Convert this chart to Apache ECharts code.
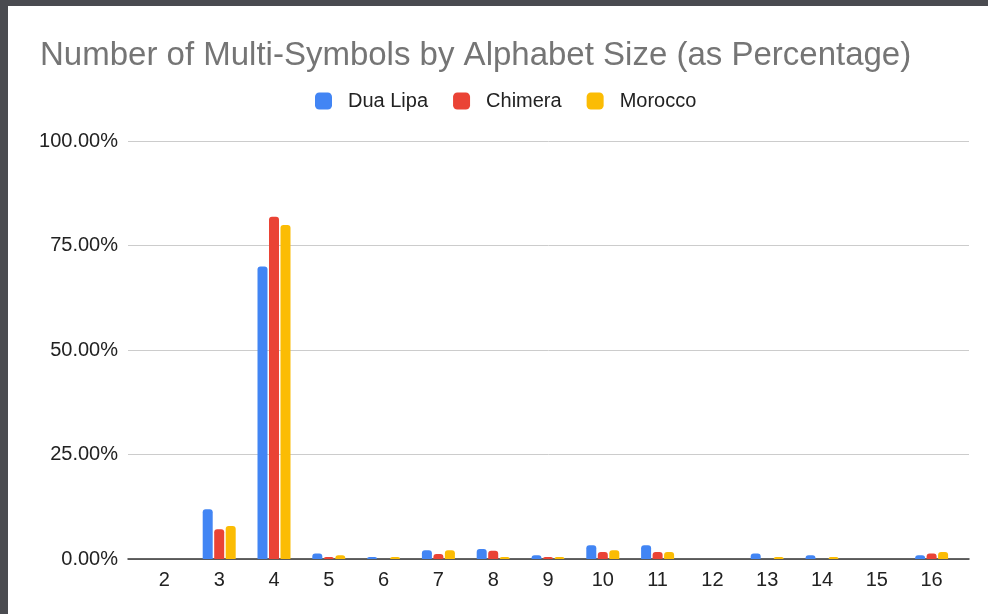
<!DOCTYPE html>
<html>
<head>
<meta charset="utf-8">
<script src="https://cdn.jsdelivr.net/npm/echarts@6/dist/echarts.min.js"></script>
<style>
  html, body { margin: 0; padding: 0; background: #ffffff; }
  #chart { position: absolute; left: 0; top: 0; width: 988px; height: 614px; }
  .frame { position: absolute; background: #4a4b50; }
</style>
</head>
<body>
<div id="chart"></div>
<div class="frame" style="left:0;top:0;width:988px;height:6px;"></div>
<div class="frame" style="left:0;top:0;width:8px;height:614px;"></div>
<script>
// Alphabet sizes on the x axis
const categories = ['2', '3', '4', '5', '6', '7', '8', '9', '10', '11', '12', '13', '14', '15', '16'];
// Share of multi-symbols per alphabet size, in percent
const duaLipa = [0, 11.9, 70.0, 1.3, 0.5, 2.1, 2.4, 0.9, 3.3, 3.3, 0, 1.3, 0.9, 0, 0.9];
const chimera = [0, 7.1, 81.9, 0.5, 0, 1.2, 2.0, 0.5, 1.7, 1.7, 0, 0, 0, 0, 1.3];
const morocco = [0, 7.9, 79.9, 0.9, 0.5, 2.1, 0.5, 0.5, 2.1, 1.7, 0, 0.5, 0.5, 0, 1.7];
const yTicks = [0, 25, 50, 75, 100];

const font = '"Liberation Sans", Arial, sans-serif';
const chart = echarts.init(document.getElementById('chart'), null, { renderer: 'canvas' });

const barSeries = (name, data, color) => ({
  name: name,
  type: 'bar',
  xAxisIndex: 1,
  yAxisIndex: 1,
  data: data,
  barWidth: 10,
  barGap: '15%',
  itemStyle: { color: color, borderRadius: [3, 3, 0, 0] }
});

chart.setOption({
  animation: false,
  backgroundColor: '#ffffff',
  textStyle: { fontFamily: font },
  title: {
    text: 'Number of Multi-Symbols by Alphabet Size (as Percentage)',
    left: 35,
    top: 34,
    textStyle: { fontFamily: font, fontSize: 33, fontWeight: 'normal', color: '#757575' }
  },
  legend: {
    top: 86,
    left: 310,
    icon: 'roundRect',
    itemWidth: 17,
    itemHeight: 17,
    itemGap: 25,
    textStyle: { fontFamily: font, fontSize: 20, color: '#222222', padding: [0, 0, 0, 11] },
    data: ['Dua Lipa', 'Chimera', 'Morocco']
  },
  grid: [
    { left: 128, right: 19, top: 141, bottom: 614 - 559, containLabel: false },
    { left: 137, right: 988 - 959, top: 141, bottom: 614 - 559, containLabel: false }
  ],
  xAxis: [
    {
      gridIndex: 0,
      type: 'value',
      min: 0,
      max: 1,
      axisLine: { show: true, onZero: true, lineStyle: { color: '#333333', width: 1.5 } },
      axisTick: { show: false },
      axisLabel: { show: false },
      splitLine: { show: false }
    },
    {
      gridIndex: 1,
      type: 'category',
      data: categories,
      axisLine: { show: false },
      axisTick: { show: false },
      axisLabel: { fontFamily: font, fontSize: 20, color: '#222222', margin: 11 }
    }
  ],
  yAxis: [
    {
      gridIndex: 0,
      type: 'value',
      min: yTicks[0],
      max: yTicks[yTicks.length - 1],
      interval: 25,
      axisLine: { show: false },
      axisTick: { show: false },
      axisLabel: {
        fontFamily: font, fontSize: 20, color: '#222222', margin: 10,
        formatter: v => v.toFixed(2) + '%'
      },
      splitLine: { lineStyle: { color: '#cccccc', width: 1 } }
    },
    {
      gridIndex: 1,
      type: 'value',
      min: yTicks[0],
      max: yTicks[yTicks.length - 1],
      interval: 25,
      show: false,
      splitLine: { show: false }
    }
  ],
  series: [
    barSeries('Dua Lipa', duaLipa, '#4285f4'),
    barSeries('Chimera', chimera, '#ea4335'),
    barSeries('Morocco', morocco, '#fbbc04')
  ]
});
</script>
</body>
</html>
